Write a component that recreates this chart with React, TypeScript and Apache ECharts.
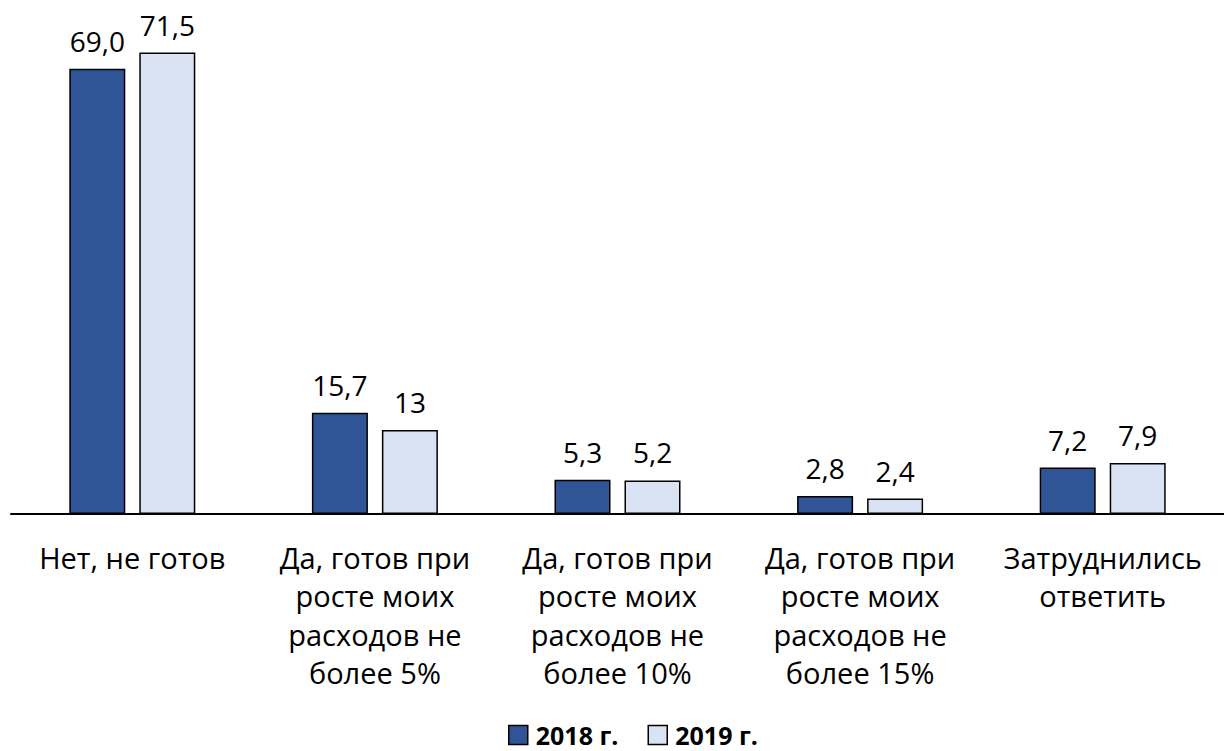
import React, { useEffect, useRef } from "react";
import * as echarts from "echarts";

const categories = [
  "Нет, не готов",
  "Да, готов при\nросте моих\nрасходов не\nболее 5%",
  "Да, готов при\nросте моих\nрасходов не\nболее 10%",
  "Да, готов при\nросте моих\nрасходов не\nболее 15%",
  "Затруднились\nответить",
];
const values2018 = [69.0, 15.7, 5.3, 2.8, 7.2];
const values2019 = [71.5, 13, 5.2, 2.4, 7.9];
const labels2018 = ["69,0", "15,7", "5,3", "2,8", "7,2"];
const labels2019 = ["71,5", "13", "5,2", "2,4", "7,9"];
const seriesNames = ["2018 г.", "2019 г."];

const FONT = "'Open Sans', 'Noto Sans', sans-serif";

export default function App() {
  const ref = useRef<HTMLDivElement>(null);
  useEffect(() => {
    const chart = echarts.init(ref.current!, null, { renderer: "svg" });
    const mk = (name: string, vals: number[], labs: string[], color: string) => ({
      name,
      type: "bar",
      data: vals,
      barWidth: 56,
      barGap: "25%",
      itemStyle: { color, borderColor: "#000", borderWidth: 1.5 },
      label: {
        show: true,
        position: "top",
        distance: 14,
        fontSize: 28,
        fontFamily: FONT,
        color: "#000",
        formatter: (p: any) => labs[p.dataIndex],
      },
    });
    chart.setOption({
      animation: false,
      grid: { left: 11, top: 30, width: 1233, height: 484, containLabel: false },
      legend: {
        top: 716,
        left: 503,
        itemWidth: 19,
        itemHeight: 19,
        itemGap: 29,
        itemStyle: { borderColor: "#000", borderWidth: 1.5 },
        textStyle: {
          fontSize: 25,
          lineHeight: 28,
          fontWeight: "bold",
          fontFamily: FONT,
          color: "#000",
          padding: [0, 0, 0, 3],
        },
        data: seriesNames.map((n) => ({ name: n, icon: "rect" })),
      },
      xAxis: {
        type: "category",
        data: categories,
        axisLine: { lineStyle: { color: "#000", width: 2 } },
        axisTick: { show: false },
        axisLabel: {
          interval: 0,
          margin: 24,
          fontSize: 29,
          lineHeight: 38.5,
          fontFamily: FONT,
          color: "#000",
        },
      },
      yAxis: {
        type: "value",
        min: 0,
        max: 75,
        show: false,
        splitLine: { show: false },
      },
      series: [
        mk(seriesNames[0], values2018, labels2018, "#2F5597"),
        mk(seriesNames[1], values2019, labels2019, "#DAE3F3"),
      ],
    });
    return () => chart.dispose();
  }, []);
  return (
    <div
      ref={ref}
      style={{ position: "fixed", left: 0, top: 0, width: 1224, height: 751, background: "#fff" }}
    />
  );
}
